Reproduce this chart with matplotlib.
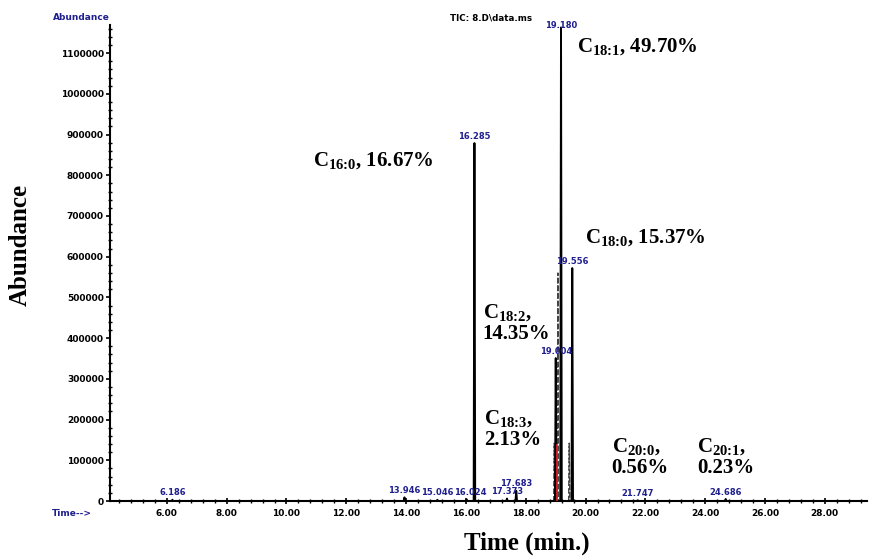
import matplotlib
matplotlib.use("Agg")
import matplotlib.pyplot as plt
from matplotlib.ticker import FixedLocator, MultipleLocator, FuncFormatter

# Retention times (min) and abundances of the integrated peaks
peak_rt = [6.186, 13.946, 15.046, 16.024, 16.285, 17.373, 17.683,
           19.004, 19.180, 19.556, 21.747, 24.686]
peak_height = [3000, 9000, 3000, 4000, 879000, 6000, 25000,
               351000, 1163000, 572000, 2000, 5000]

# Unlabelled shoulders of the trace around the C18 cluster
shoulder_rt = [18.955, 19.075, 19.455]
shoulder_height = [142000, 560000, 142000]

# Overlaid second trace (red)
red_rt = [19.04]
red_height = [137000]

# Fatty-acid assignments: (name, percent, anchor time, anchor abundance)
fa_names = ["16:0", "18:1", "18:0", "18:2", "18:3", "20:0", "20:1"]
fa_percent = ["16.67%", "49.70%", "15.37%", "14.35%", "2.13%", "0.56%", "0.23%"]
fa_rt = [10.88, 19.70, 19.97, 16.56, 16.62, 20.87, 23.74]
fa_abund = [837000, 1115000, 648000, 437000, 177000, 107000, 107000]
fa_two_lines = [False, False, False, True, True, True, True]

y_ticks = list(range(0, 1100001, 100000))
x_ticks = [6, 8, 10, 12, 14, 16, 18, 20, 22, 24, 26, 28]

XMIN, XMAX = 4.10, 29.42
YMAX = 1169000

plt.rcParams["mathtext.fontset"] = "custom"
plt.rcParams["mathtext.rm"] = "Liberation Serif:bold"
plt.rcParams["mathtext.bf"] = "Liberation Serif:bold"
plt.rcParams["mathtext.default"] = "rm"

BLUE = "#1f1f8f"
TICKFONT = dict(family="DejaVu Sans", weight="bold", size=6.5)
RTFONT = dict(family="DejaVu Sans", weight="bold", size=6.0)

fig = plt.figure(figsize=(8.69, 5.57), dpi=100)
ax = fig.add_axes([0.1266, 0.1005, 0.8714, 0.8546])


def trace(rts, heights, w=0.025):
    xs, ys = [XMIN], [0]
    for t, h in sorted(zip(rts, heights)):
        xs += [t - w, t, t + w]
        ys += [0, h, 0]
    xs.append(XMAX)
    ys.append(0)
    return xs, ys


# shoulders drawn faintly behind the main trace
for t, h in zip(shoulder_rt, shoulder_height):
    sx, sy = trace([t], [h], w=0.02)
    ax.plot(sx, sy, color="#444444", lw=1.0, ls=(0, (4, 1.5)), zorder=2)

tx, ty = trace(peak_rt, peak_height)
ax.plot(tx, ty, color="black", lw=1.4, zorder=3)

for t, h in zip(red_rt, red_height):
    ax.plot([t, t], [0, h], color="#e8202a", lw=1.2, zorder=4)

# retention-time labels above each peak; the crowded one is nudged right
nudge = {16.024: 2.5}
for t, h in zip(peak_rt, peak_height):
    y = min(h, YMAX - 18000)
    ax.annotate(f"{t:.3f}", (t, y), xytext=(nudge.get(t, 0), 5), textcoords="offset points",
                ha="center", va="center", color=BLUE, zorder=5, **RTFONT)

# fatty-acid composition annotations
for name, pct, t, a, two in zip(fa_names, fa_percent, fa_rt, fa_abund, fa_two_lines):
    sep = ",\n" if two else ", "
    ax.text(t, a, f"C$_{{\\text{{{name}}}}}${sep}{pct}", ha="left", va="center",
            family="Liberation Serif", weight="bold", size=15,
            linespacing=1.05, zorder=6)

ax.set_xlim(XMIN, XMAX)
ax.set_ylim(0, YMAX)

for side in ("top", "right"):
    ax.spines[side].set_visible(False)
for side in ("left", "bottom"):
    ax.spines[side].set_linewidth(1.5)

ax.yaxis.set_major_locator(FixedLocator(y_ticks))
ax.yaxis.set_minor_locator(MultipleLocator(20000))
ax.yaxis.set_major_formatter(FuncFormatter(lambda v, p: f"{int(v)}"))
ax.xaxis.set_major_locator(FixedLocator(x_ticks))
ax.xaxis.set_minor_locator(MultipleLocator(0.4))
ax.xaxis.set_major_formatter(FuncFormatter(lambda v, p: f"{v:.2f}"))

ax.tick_params(axis="both", which="major", direction="out", length=3, width=1.2, pad=1.5)
ax.tick_params(axis="both", which="minor", direction="inout", length=2.5, width=1.0)
ax.tick_params(axis="x", which="major", direction="inout", length=5, pad=3)
for lab in ax.get_xticklabels() + ax.get_yticklabels():
    lab.set_fontproperties(matplotlib.font_manager.FontProperties(**TICKFONT))

# instrument header texts
fig.text(110 / 869, 1 - 17 / 557, "Abundance", ha="right", va="center",
         color=BLUE, family="DejaVu Sans", weight="bold", size=6.5)
fig.text(450 / 869, 1 - 18 / 557, "TIC: 8.D\\data.ms", ha="left", va="center",
         color="black", family="DejaVu Sans", weight="bold", size=6.3)
fig.text(52 / 869, 1 - 513 / 557, "Time-->", ha="left", va="center",
         color=BLUE, family="DejaVu Sans", weight="bold", size=6.5)

# axis titles
fig.text(20 / 869, 1 - 245 / 557, "Abundance", rotation=90, ha="center", va="center",
         family="Liberation Serif", weight="bold", size=18)
fig.text(527 / 869, 1 - 543 / 557, "Time (min.)", ha="center", va="center",
         family="Liberation Serif", weight="bold", size=18)

fig.savefig("out.png", dpi=100)
